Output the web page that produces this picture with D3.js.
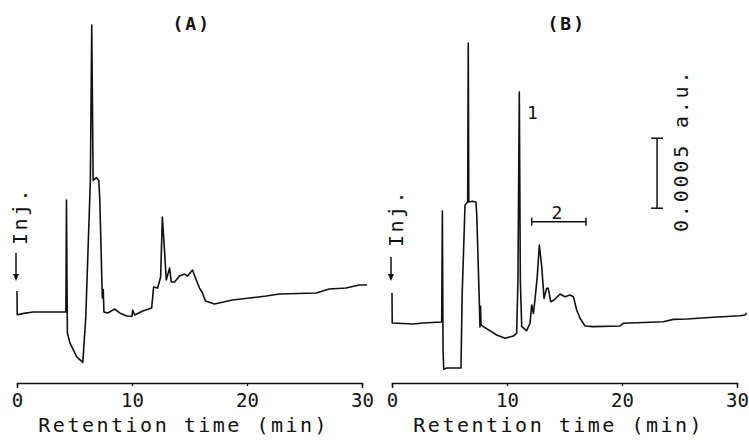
<!DOCTYPE html>
<html>
<head>
<meta charset="utf-8">
<script src="https://cdn.jsdelivr.net/npm/d3@7"></script>
<style>
  body { margin: 0; background: #fff; }
  text { font-family: "DejaVu Sans Mono", "Liberation Mono", monospace; fill: #111; }
</style>
</head>
<body>
<script>
// retention time (min) and detector signal (x 0.001 a.u.)
var timeA = [0, 0.02, 0.6, 1.4, 4.25, 4.3, 4.38, 4.6, 5.2, 5.72, 5.98, 6.2, 6.38, 6.5, 6.62, 6.9, 7.11, 7.2, 7.42, 7.5, 7.56,
  7.89, 8.5, 8.93, 9.54, 10.0, 10.06, 10.23, 10.93, 11.71, 11.88, 12.23, 12.49, 12.64, 12.84, 12.98, 13.27, 13.42, 13.7,
  14.14, 14.57, 14.83, 15.26, 15.59, 15.87, 16.13, 16.39, 17.17, 18.73, 21.68, 22.81, 26.02, 27.15, 28.62, 29.75, 30.44];
var signalA = [0.15, -0.02, -0.01, 0.0, 0.0, 0.80, -0.15, -0.22, -0.32, -0.36, -0.04, 0.5, 0.94, 2.05, 0.94, 0.96, 0.94, 0.8, 0.1, 0.16, 0.0,
  -0.007, 0.021, -0.007, -0.029, -0.03, 0.014, -0.021, 0.007, 0.029, 0.179, 0.171, 0.25, 0.679, 0.421, 0.229, 0.314, 0.214, 0.214,
  0.257, 0.271, 0.257, 0.3, 0.229, 0.171, 0.136, 0.079, 0.057, 0.086, 0.114, 0.129, 0.136, 0.164, 0.171, 0.193, 0.193];

var timeB = [0, 0.02, 1.83, 2.7, 4.32, 4.38, 4.44, 4.5, 4.76, 6.0, 6.1, 6.35, 6.58, 6.63, 6.68, 7.0, 7.3, 7.37, 7.59, 7.65, 7.7,
  7.74, 7.94, 8.52, 9.1, 9.83, 10.55, 10.84, 10.95, 11.07, 11.16, 11.28, 11.71, 12.0, 12.15, 12.29, 12.43, 12.63, 12.81,
  13.02, 13.22, 13.45, 13.59, 13.8, 14.09, 14.61, 15.04, 15.48, 15.77, 16.06, 16.35, 16.78, 17.5, 19.83, 20.11, 23.59,
  24.46, 25.63, 27.94, 30.26, 30.7, 30.84];
var signalB = [0.214, 0.0, -0.007, 0.0, 0.007, 0.80, -0.2, -0.33, -0.321, -0.321, 0.2, 0.843, 0.864, 2.0, 0.864, 0.87, 0.864, 0.771, 0.164, -0.029, 0.12,
  -0.014, -0.026, -0.055, -0.086, -0.109, -0.093, -0.074, 0.3, 1.65, 0.3, -0.026, -0.055, -0.002, 0.129, 0.069, 0.164, 0.331, 0.557,
  0.402, 0.176, 0.248, 0.248, 0.152, 0.164, 0.207, 0.188, 0.2, 0.188, 0.093, 0.034, -0.021, -0.026, -0.021, -0.002, 0.009,
  0.026, 0.029, 0.041, 0.052, 0.057, 0.071];

var tickValues = [0, 10, 20, 30];
var panelNames = ["(A)", "(B)"];
var axisTitle = "Retention time (min)";
var scaleBar = [0.82, 1.32];   // 0.0005 a.u. in the signal units
var fraction2 = [12.15, 16.87]; // time range marked "2"

var w = 749, h = 441;
var svg = d3.select("body").append("svg")
    .attr("width", w)
    .attr("height", h)
    .style("background", "#fff");

var panels = [
  {name: panelNames[0], time: timeA, signal: signalA, xr: [17, 362], y0: 312},
  {name: panelNames[1], time: timeB, signal: signalB, xr: [392, 737], y0: 323}
];

var line = d3.line();

panels.forEach(function(p, k){
    var x = d3.scaleLinear().domain([0, 30]).range(p.xr);
    var y = d3.scaleLinear().domain([0, 1]).range([p.y0, p.y0 - 140]);
    p.x = x; p.y = y;

    var pts = p.time.map(function(t, i){ return [x(t), y(p.signal[i])]; });
    svg.append("path")
        .attr("d", line(pts))
        .attr("fill", "none")
        .attr("stroke", "#111")
        .attr("stroke-width", 1.6)
        .attr("stroke-linejoin", "round");

    // time axis
    var axis = d3.axisBottom(x)
        .tickValues(tickValues)
        .tickSizeInner(3)
        .tickSizeOuter(5)
        .tickPadding(8);
    var g = svg.append("g")
        .attr("transform", "translate(0,383)")
        .call(axis)
        .attr("font-family", null)
        .attr("font-size", null);
    g.select(".domain").attr("stroke", "#111").attr("stroke-width", 1.5);
    g.selectAll(".tick line").attr("stroke", "#111").attr("stroke-width", 1.3);
    g.selectAll(".tick text")
        .style("font-size", "19px")
        .attr("fill", "#111");

    svg.append("text")
        .attr("x", x(14.5))
        .attr("y", 432)
        .attr("text-anchor", "middle")
        .style("font-size", "20px")
        .style("letter-spacing", "2.5px")
        .text(axisTitle);

    // panel title
    svg.append("text")
        .attr("x", x(15.2))
        .attr("y", 30)
        .attr("text-anchor", "middle")
        .style("font-size", "18px")
        .style("font-weight", "bold")
        .style("letter-spacing", "2px")
        .text(p.name);

    // injection marker
    var ix = x(0);
    var bx = k === 0 ? ix + 10 : ix + 11;
    svg.append("text")
        .attr("transform", "translate(" + bx + "," + (k === 0 ? 245 : 247) + ") rotate(-90)")
        .style("font-size", "20px")
        .style("letter-spacing", "2.5px")
        .text("Inj.");
    var ax = ix - 1, ya = k === 0 ? 253 : 257;
    svg.append("line")
        .attr("x1", ax).attr("x2", ax)
        .attr("y1", ya).attr("y2", 275)
        .attr("stroke", "#111").attr("stroke-width", 1.5);
    svg.append("path")
        .attr("d", "M" + (ax - 3) + ",274L" + (ax + 3) + ",274L" + ax + ",281Z")
        .attr("fill", "#111");
});

// annotations on panel B
var pb = panels[1];
svg.append("text")
    .attr("x", pb.x(12.2))
    .attr("y", pb.y(1.46))
    .attr("text-anchor", "middle")
    .style("font-size", "18px")
    .text("1");

var fy = pb.y(0.724);
svg.append("line")
    .attr("x1", pb.x(fraction2[0])).attr("x2", pb.x(fraction2[1]))
    .attr("y1", fy).attr("y2", fy)
    .attr("stroke", "#111").attr("stroke-width", 1.5);
fraction2.forEach(function(t){
    svg.append("line")
        .attr("x1", pb.x(t)).attr("x2", pb.x(t))
        .attr("y1", fy - 4).attr("y2", fy + 4)
        .attr("stroke", "#111").attr("stroke-width", 1.5);
});
svg.append("text")
    .attr("x", pb.x(14.35))
    .attr("y", fy - 3)
    .attr("text-anchor", "middle")
    .style("font-size", "18px")
    .text("2");

var sx = pb.x(23.05);
svg.append("line")
    .attr("x1", sx).attr("x2", sx)
    .attr("y1", pb.y(scaleBar[0])).attr("y2", pb.y(scaleBar[1]))
    .attr("stroke", "#111").attr("stroke-width", 1.5);
scaleBar.forEach(function(v){
    svg.append("line")
        .attr("x1", sx - 6).attr("x2", sx + 6)
        .attr("y1", pb.y(v)).attr("y2", pb.y(v))
        .attr("stroke", "#111").attr("stroke-width", 1.5);
});
svg.append("text")
    .attr("transform", "translate(688,232) rotate(-90)")
    .style("font-size", "20px")
    .style("letter-spacing", "2.8px")
    .text("0.0005 a.u.");
</script>
</body>
</html>
